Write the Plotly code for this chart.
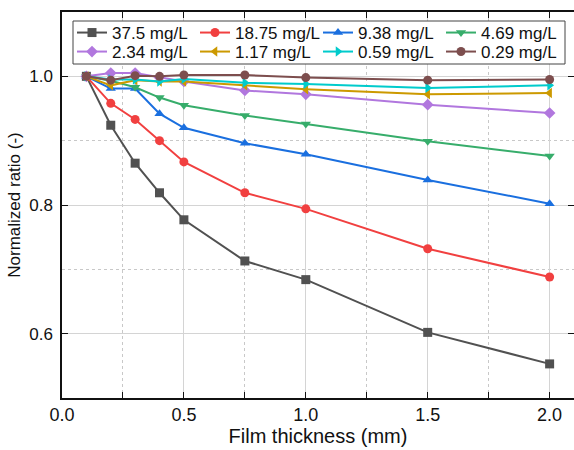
import plotly.graph_objects as go

thickness = [0.1, 0.2, 0.3, 0.4, 0.5, 0.75, 1.0, 1.5, 2.0]

labels = ["37.5 mg/L", "18.75 mg/L", "9.38 mg/L", "4.69 mg/L",
          "2.34 mg/L", "1.17 mg/L", "0.59 mg/L", "0.29 mg/L"]

y_37_5 = [1.0, 0.924, 0.865, 0.819, 0.777, 0.713, 0.684, 0.602, 0.553]
y_18_75 = [1.0, 0.958, 0.933, 0.900, 0.867, 0.819, 0.794, 0.732, 0.688]
y_9_38 = [1.0, 0.981, 0.981, 0.942, 0.920, 0.896, 0.879, 0.839, 0.802]
y_4_69 = [1.0, 0.993, 0.983, 0.967, 0.955, 0.939, 0.926, 0.899, 0.876]
y_2_34 = [1.0, 1.005, 1.005, 0.998, 0.992, 0.978, 0.972, 0.956, 0.943]
y_1_17 = [1.0, 0.986, 0.994, 0.992, 0.992, 0.986, 0.980, 0.972, 0.974]
y_0_59 = [1.0, 0.995, 0.995, 0.992, 0.996, 0.990, 0.988, 0.982, 0.986]
y_0_29 = [1.0, 0.994, 1.001, 1.000, 1.002, 1.002, 0.998, 0.994, 0.995]

series = [y_37_5, y_18_75, y_9_38, y_4_69, y_2_34, y_1_17, y_0_59, y_0_29]
colors = ["#515151", "#F14040", "#1A6FDF", "#37AD6B",
          "#B177DE", "#CC9900", "#00CBCC", "#7D4E4E"]
symbols = ["square", "circle", "triangle-up", "triangle-down",
           "diamond", "triangle-left", "triangle-right", "circle"]

FONT = "Liberation Sans, Arial, sans-serif"

W, H = 574, 450
ML, MR, MT, MB = 62, 0, 12, 52
PW, PH = W - ML - MR, H - MT - MB


def px_x(px):
    return (px - ML) / PW


def px_y(py):
    return 1 - (py - MT) / PH


fig = go.Figure()
for i, (lab, ys, c, s) in enumerate(zip(labels, series, colors, symbols)):
    fig.add_trace(go.Scatter(
        x=thickness, y=ys, name=lab, mode="lines+markers",
        line=dict(color=c, width=2),
        marker=dict(symbol=s, size=9, color=c),
        legend="legend" if i < 4 else "legend2",
    ))

leg_common = dict(
    orientation="h", xanchor="left", yanchor="middle",
    bgcolor="rgba(0,0,0,0)", borderwidth=0,
    font=dict(size=17, family=FONT),
    entrywidth=78, entrywidthmode="pixels",
    itemwidth=30, tracegroupgap=0,
)

fig.update_layout(
    width=W, height=H,
    margin=dict(l=ML, r=MR, t=MT, b=MB, autoexpand=False),
    paper_bgcolor="white", plot_bgcolor="white",
    font=dict(family=FONT, color="#111111"),
    showlegend=True,
    legend=dict(x=px_x(72), y=px_y(33), **leg_common),
    legend2=dict(x=px_x(72), y=px_y(52), **leg_common),
    shapes=[dict(
        type="rect", xref="paper", yref="paper",
        x0=px_x(73), x1=px_x(565), y0=px_y(64), y1=px_y(21),
        line=dict(color="#444444", width=1), fillcolor="white", layer="above",
    )],
    xaxis=dict(
        range=[0, 2.1], dtick=0.5, tick0=0, tickformat=".1f",
        ticks="inside", ticklen=6, tickwidth=1.2, tickcolor="#111111",
        showline=True, linecolor="#111111", linewidth=1.5, mirror="ticks",
        showgrid=True, gridcolor="#d4d4d4", gridwidth=1,
        zeroline=False, automargin=False,
        tickfont=dict(size=18, family=FONT),
        title=dict(text="Film thickness (mm)", font=dict(size=20, family=FONT), standoff=4),
        minor=dict(dtick=0.25, tick0=0, ticks="inside", ticklen=6, tickcolor="#111111",
                   showgrid=True, gridcolor="#c8c8c8", griddash="dot", gridwidth=1),
    ),
    yaxis=dict(
        range=[0.5, 1.1], dtick=0.2, tick0=0.6, tickformat=".1f",
        ticks="inside", ticklen=6, tickwidth=1.2, tickcolor="#111111",
        showline=True, linecolor="#111111", linewidth=1.5, mirror="ticks",
        showgrid=True, gridcolor="#d4d4d4", gridwidth=1,
        zeroline=False, automargin=False, ticklabelstandoff=4,
        tickfont=dict(size=17, family=FONT),
        title=dict(text="Normalized ratio (-)", font=dict(size=17, family=FONT), standoff=4),
        minor=dict(dtick=0.1, tick0=0.5, ticks="", showgrid=True,
                   gridcolor="#c8c8c8", griddash="dot", gridwidth=1),
    ),
)

fig.write_html("out.html", config={"displayModeBar": False},
               post_script="document.body.style.margin='0';document.body.style.overflow='hidden';")
